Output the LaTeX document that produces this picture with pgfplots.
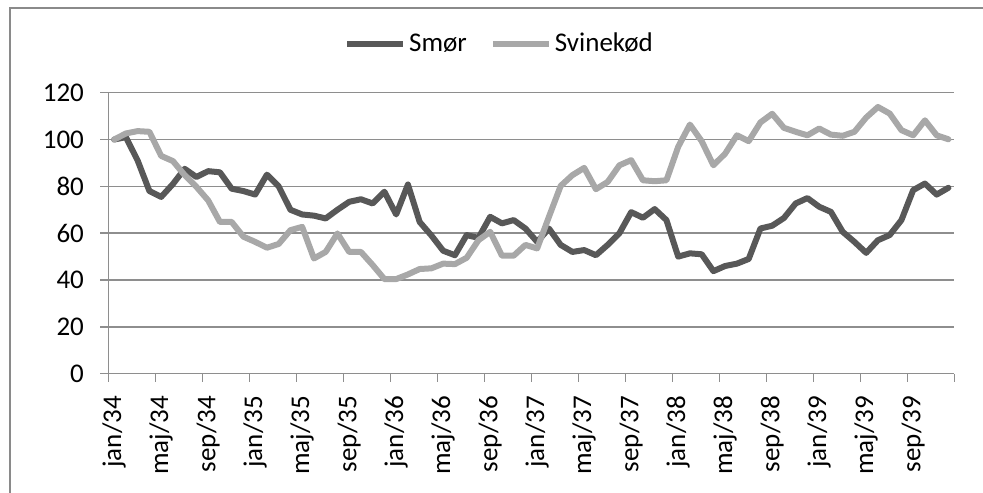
\documentclass[border=0pt]{standalone}
\usepackage{pgfplots}
\pgfplotsset{compat=1.18}
\usepackage{pgfplotstable}
\usepackage{fontspec}
\setmainfont{Carlito}
\definecolor{smor}{HTML}{585858}
\definecolor{svin}{HTML}{A8A8A8}
\definecolor{gridgray}{HTML}{8E8E8E}
\definecolor{framegray}{HTML}{8A8A8A}
\pgfplotstableread{
i smor svin
0 100 100
1 101 102.6
2 91 103.6
3 78 103.3
4 75.5 93
5 81 90.8
6 87.5 84.8
7 84 79.8
8 86.5 74
9 86 64.8
10 79 64.8
11 78 58.5
12 76.5 56.3
13 85 53.8
14 80 55.4
15 70 61.3
16 68 62.7
17 67.5 49.2
18 66.3 52
19 70 59.9
20 73.4 52
21 74.5 52
22 72.7 46.4
23 77.7 40.4
24 68 40.4
25 80.8 42.4
26 64.8 44.7
27 59 45
28 52.5 47
29 50.6 46.8
30 59.2 49.5
31 58 57
32 67 60.6
33 64.2 50.4
34 65.6 50.4
35 62 55
36 56.3 53.5
37 62 67
38 55 80.2
39 52 84.8
40 52.8 87.9
41 50.6 78.8
42 55 81.9
43 60 89
44 69 91.2
45 66.6 82.6
46 70.3 82.2
47 65.6 82.6
48 50 96.9
49 51.4 106.4
50 51 99.3
51 43.8 89
52 46 94
53 47 101.8
54 49 99.3
55 62 107.3
56 63.2 111
57 66.5 105
58 72.7 103.3
59 75 101.8
60 71.3 104.7
61 69.1 102.1
62 60.6 101.6
63 56.3 103.3
64 51.6 109.4
65 57 113.9
66 59.2 111.1
67 65.6 104
68 78.4 101.8
69 81.2 108.2
70 76.5 101.8
71 79.4 100.1
}\datatable
\begin{document}
\begin{tikzpicture}[font=\fontsize{13.5}{16}\selectfont]
\useasboundingbox (-54.15pt,-59.15pt) rectangle (437.35pt,186.85pt);
\begin{axis}[
  at={(0,0)}, anchor=south west,
  scale only axis, width=423pt, height=140.5pt,
  xmin=0, xmax=72, ymin=0, ymax=120,
  axis x line*=bottom, axis y line*=left,
  axis line style={gridgray, line width=0.75pt},
  ytick={0,20,...,120},
  ymajorgrids, grid style={gridgray, line width=0.75pt},
  tick align=outside, major tick length=4pt,
  tick style={gridgray, line width=0.75pt},
  xtick={0,4,...,72}, xticklabels={},
  extra x ticks={0.5,4.5,...,68.5},
  extra x tick labels={jan/34,maj/34,sep/34,jan/35,maj/35,sep/35,jan/36,maj/36,sep/36,jan/37,maj/37,sep/37,jan/38,maj/38,sep/38,jan/39,maj/39,sep/39},
  extra x tick style={grid=none, tick style={draw=none}},
  x tick label style={rotate=90, anchor=east, inner sep=0pt},
  xticklabel shift=7pt,
  y tick label style={anchor=east, inner sep=0pt},
  yticklabel shift=8pt,
  /pgf/number format/assume math mode=true,
  legend columns=2,
  legend style={at={(0.463,1.173)}, anchor=center, draw=none, fill=none,
    font=\fontsize{13.5}{16}\selectfont,
    /tikz/every even column/.append style={column sep=10pt},
    nodes={inner sep=1.5pt}},
  legend image code/.code={\draw[#1, line cap=butt] (0pt,0pt) -- (28pt,0pt);},
]
\addplot[smor, line width=3pt, line join=round, line cap=round] table[x expr=\thisrow{i}+0.5, y=smor] {\datatable};
\addlegendentry{Smør}
\addplot[svin, line width=3pt, line join=round, line cap=round] table[x expr=\thisrow{i}+0.5, y=svin] {\datatable};
\addlegendentry{Svinekød}
\end{axis}
\draw[framegray, line width=0.75pt] (-49.15pt,-62pt) -- (-49.15pt,182.85pt) -- (440pt,182.85pt);
\end{tikzpicture}
\end{document}
